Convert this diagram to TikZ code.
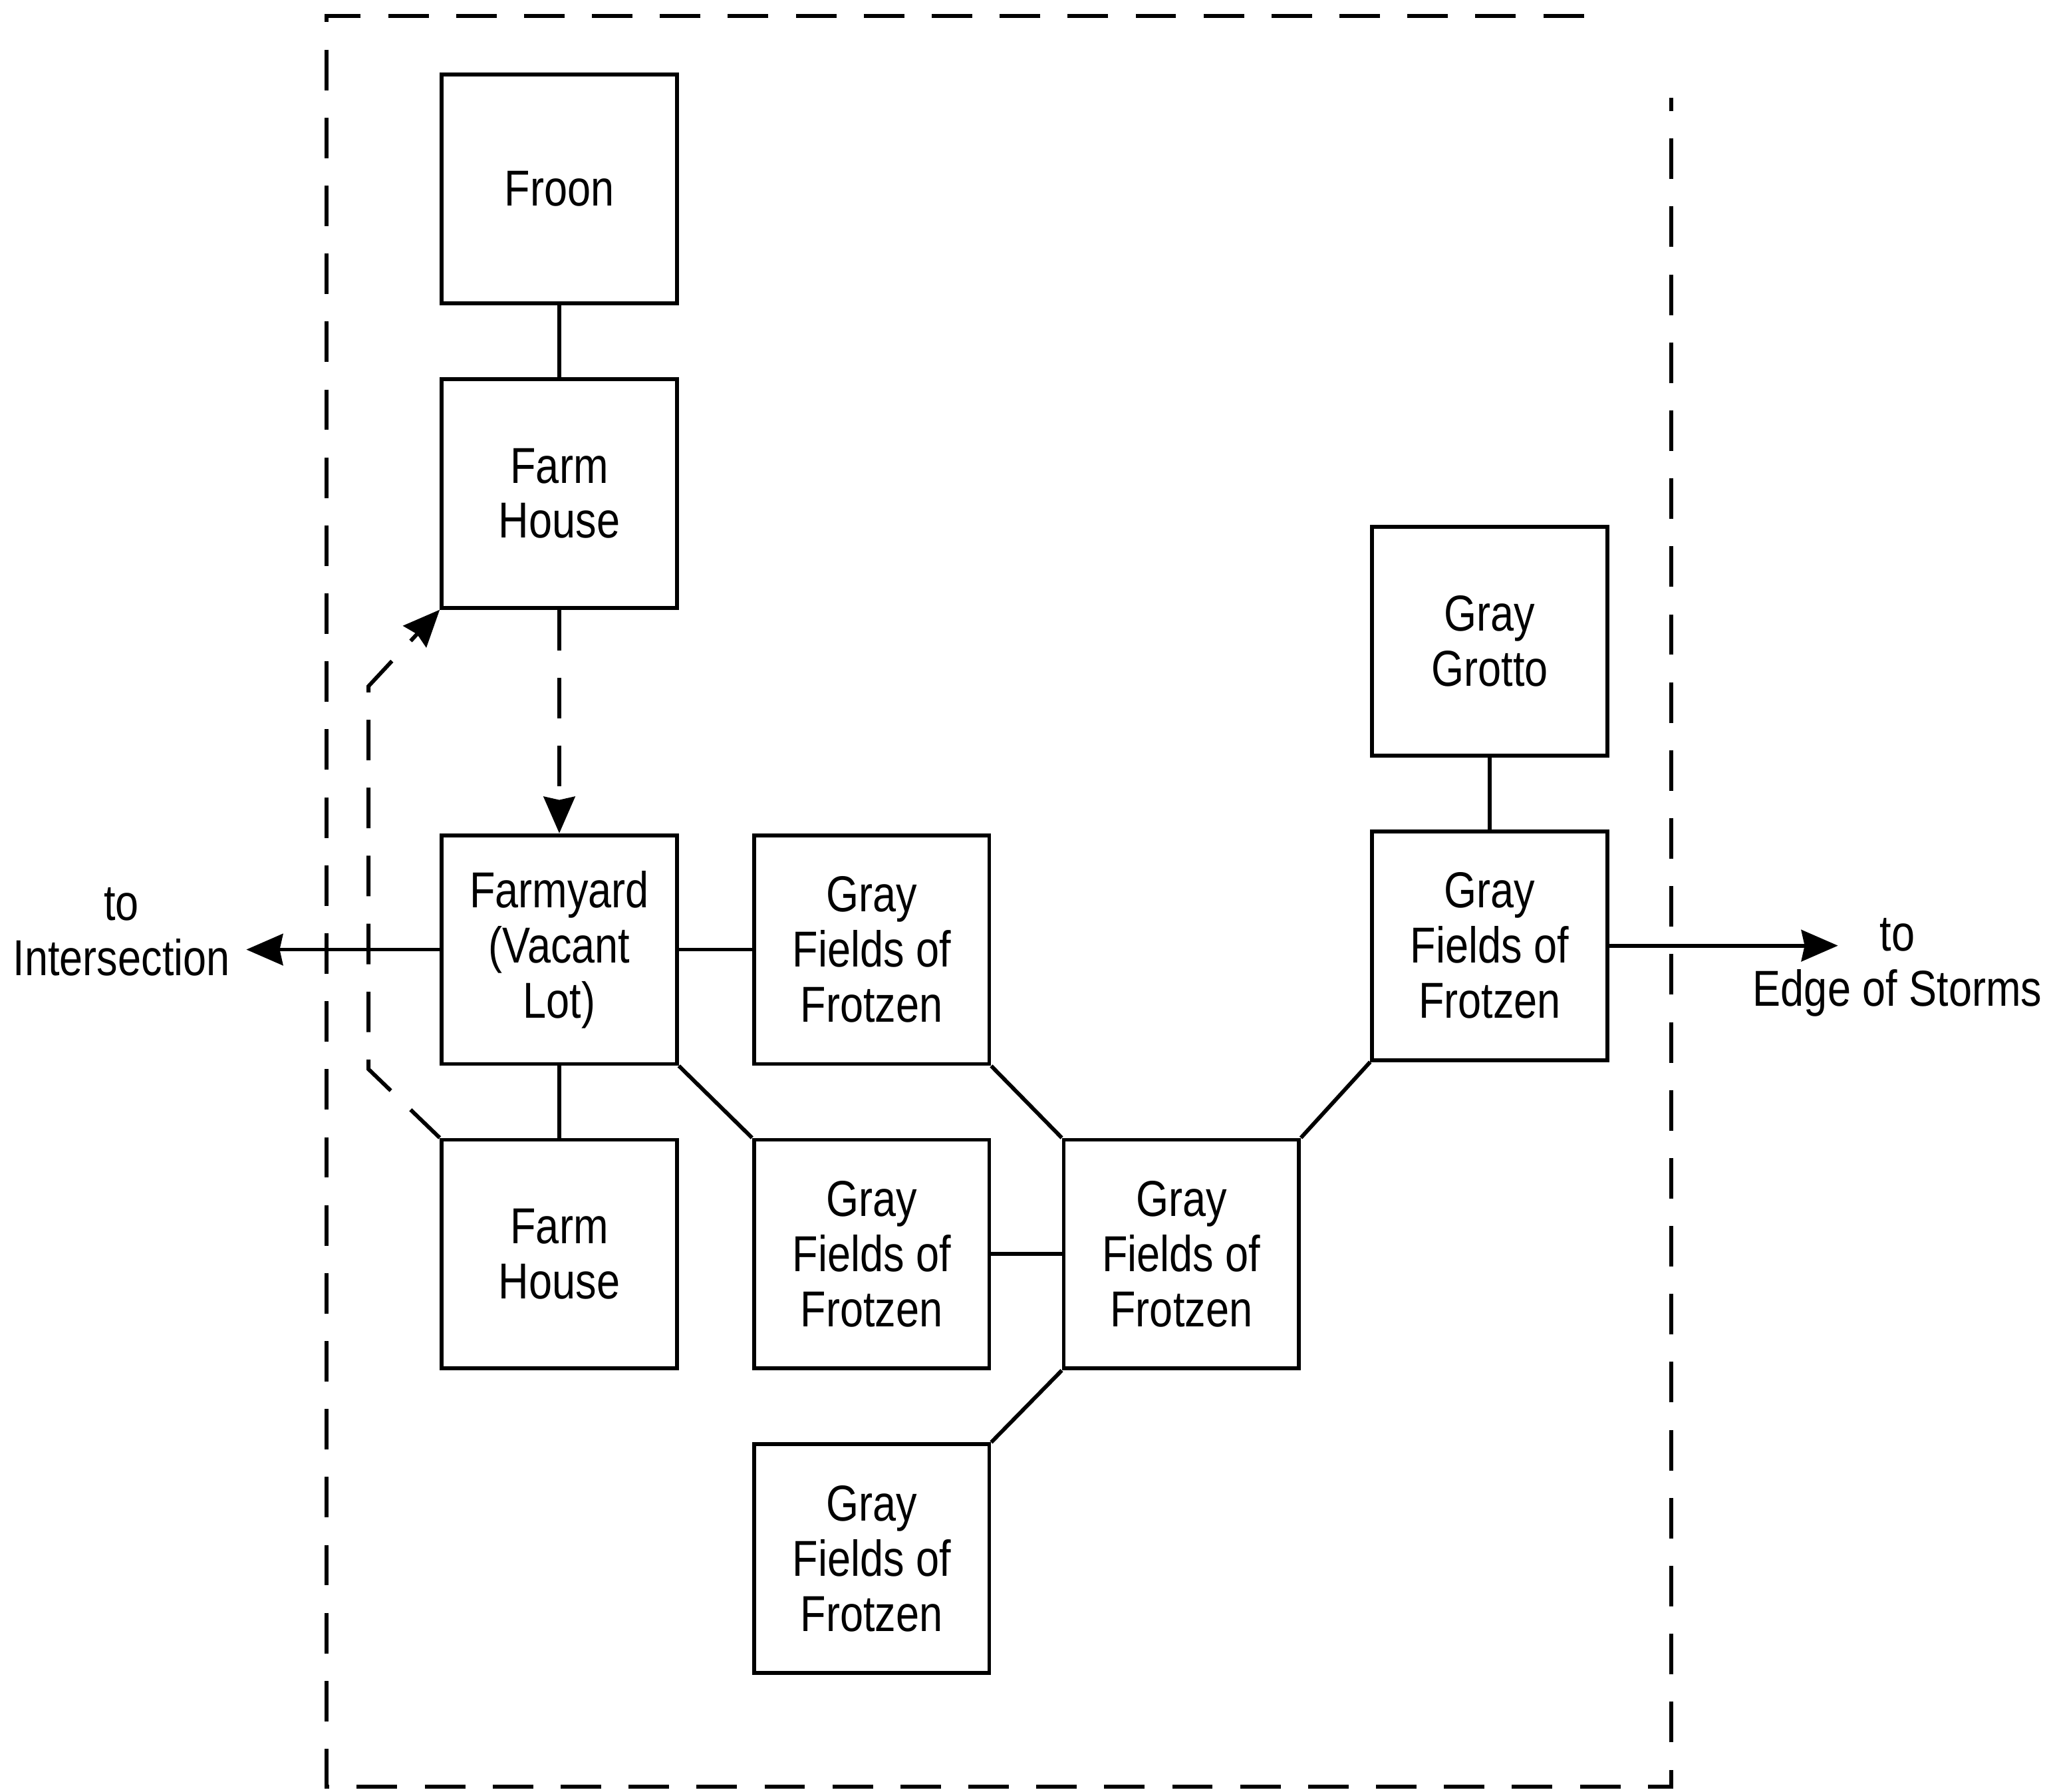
\documentclass[tikz,border=0pt]{standalone}
\usepackage{fontspec}
\setmainfont[FakeStretch=0.83]{Liberation Sans}
\usetikzlibrary{arrows.meta,positioning}

\begin{document}
\begin{tikzpicture}[>={Stealth[length=2.8mm,width=2.4mm,inset=.25mm]},line width=.85pt,
                    node distance=2.33cm,font=\fontsize{11pt}{12pt}\selectfont]
  \tikzstyle{room}=[rectangle,draw=black,text=black,align=center,minimum width=1.8cm,minimum height=1.75cm,inner sep=0pt]
  \tikzstyle{exit}=[align=center,inner sep=0pt]
  \tikzstyle{secret}=[dash pattern=on 3.1mm off 2.1mm]

  \useasboundingbox (0,0) rectangle (15.68,-13.71);

  \node[room]          (Froon) at (4.28,-1.445) {Froon};
  \node[room]          (House1) [below of=Froon] {Farm\\House};
  \node[room]          (Yard) [below of=House1, yshift=-1.16cm] {Farmyard\\(Vacant\\Lot)};
  \node[room]          (House2) [below of=Yard] {Farm\\House};
  \node[room]          (Field1) [right of=Yard, xshift=.06cm] {Gray\\Fields of\\Frotzen};
  \node[room]          (Field2) [right of=House2, xshift=.06cm] {Gray\\Fields of\\Frotzen};
  \node[room]          (Field3) [below of=Field2] {Gray\\Fields of\\Frotzen};
  \node[room]          (Field4) [right of=Field2, xshift=.04cm] {Gray\\Fields of\\Frotzen};
  \node[room]          (Field5) [above of=Field4, xshift=2.36cm, yshift=.03cm] {Gray\\Fields of\\Frotzen};
  \node[room]          (Grotto) [above of=Field5] {Gray\\Grotto};

  \coordinate[left=1.48cm of Yard.west]     (WestEnd);
  \coordinate[right=1.75cm of Field5.east]  (EastEnd);
  \coordinate (BendLow) at (2.82,-8.18);
  \coordinate (BendHigh) at (2.82,-5.25);
  \node[exit]          (Intersection) at (0.93,-7.13) {to\\Intersection};
  \node[exit]          (Storms) at (14.52,-7.40) {to\\Edge of Storms};

  % outline of the area
  \draw[secret] (12.12,-.12) -- (2.50,-.12) -- (2.50,-13.67) -- (12.79,-13.67) -- (12.79,-.75);

  \path (Froon) edge (House1)
        (Yard) edge (Field1)
               edge (House2)
        (Yard.south east) edge (Field2.north west)
        (Field1.south east) edge (Field4.north west)
        (Field2) edge (Field4)
        (Field3.north east) edge (Field4.south west)
        (Field4.north east) edge (Field5.south west)
        (Grotto) edge (Field5);
  \path[->] (Yard) edge (WestEnd)
            (Field5) edge (EastEnd);

  \draw[secret,->] (House1) -- (Yard);
  \draw[secret,->] (House2.north west) -- (BendLow) -- (BendHigh) -- (House1.south west);
\end{tikzpicture}
\end{document}
